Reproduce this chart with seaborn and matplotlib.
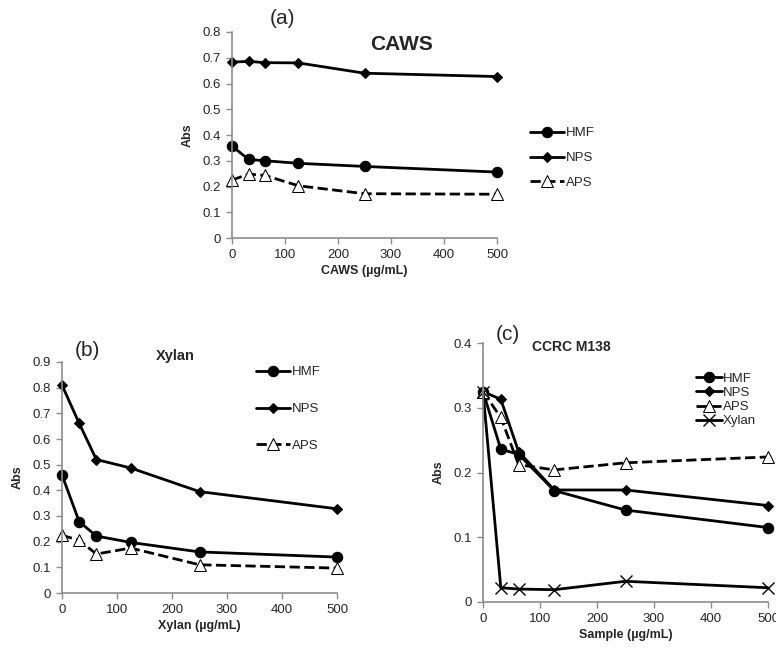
import numpy as np
import pandas as pd
import matplotlib
matplotlib.use("Agg")
import matplotlib.pyplot as plt
import seaborn as sns

# concentrations (ug/mL)
conc = [0, 31.25, 62.5, 125, 250, 500]

# (a) CAWS
caws_hmf = [0.357, 0.305, 0.300, 0.290, 0.278, 0.256]
caws_nps = [0.683, 0.686, 0.681, 0.680, 0.640, 0.627]
caws_aps = [0.225, 0.248, 0.243, 0.203, 0.172, 0.170]

# (b) Xylan
xyl_hmf = [0.460, 0.278, 0.222, 0.197, 0.160, 0.140]
xyl_nps = [0.810, 0.661, 0.520, 0.487, 0.395, 0.328]
xyl_aps = [0.225, 0.205, 0.152, 0.175, 0.110, 0.097]

# (c) CCRC M138
m138_hmf = [0.325, 0.236, 0.228, 0.172, 0.142, 0.115]
m138_nps = [0.325, 0.313, 0.232, 0.173, 0.173, 0.149]
m138_aps = [0.325, 0.285, 0.212, 0.204, 0.215, 0.224]
m138_xylan = [0.325, 0.022, 0.020, 0.019, 0.032, 0.022]

sns.set_style("white")
plt.rcParams["font.family"] = ["Liberation Sans", "DejaVu Sans"]

W, H = 776, 648
fig = plt.figure(figsize=(W / 100, H / 100), dpi=100)


def px_axes(left, top, right, bottom):
    return fig.add_axes([left / W, 1 - bottom / H, (right - left) / W, (bottom - top) / H])


STYLES = {
    "HMF": dict(marker="o", linestyle="-", markersize=7.5, markerfacecolor="black"),
    "NPS": dict(marker="D", linestyle="-", markersize=5, markerfacecolor="black"),
    "APS": dict(marker="^", linestyle="--", markersize=8, markerfacecolor="white"),
    "Xylan": dict(marker="x", linestyle="-", markersize=8, markeredgewidth=1.0),
}


def draw(ax, series, ymax, ystep, xlabel):
    for name, vals in series.items():
        df = pd.DataFrame({"x": conc, "y": vals})
        sns.lineplot(data=df, x="x", y="y", ax=ax, color="black", linewidth=2.0,
                     markeredgecolor="black", clip_on=False, label=name,
                     **STYLES[name])
    ax.set_xlim(0, 500)
    ax.set_ylim(0, ymax)
    ax.set_xticks(range(0, 501, 100))
    ax.set_yticks(np.round(np.arange(0, ymax + 1e-9, ystep), 2))
    ax.set_yticklabels(["0" if t == 0 else f"{t:g}" for t in ax.get_yticks()])
    for s in ["top", "right"]:
        ax.spines[s].set_visible(False)
    for s in ["left", "bottom"]:
        ax.spines[s].set_color("#8c8c8c")
        ax.spines[s].set_linewidth(1.2)
    ax.tick_params(axis="both", direction="out", length=4, width=1, color="#8c8c8c",
                   labelsize=9.5, pad=4, left=True, bottom=True)
    ax.set_xlabel(xlabel, fontsize=9, fontweight="bold", labelpad=3)
    ax.set_ylabel("Abs", fontsize=9, fontweight="bold", labelpad=6)
    ax.grid(False)


# (a)
ax_a = px_axes(232, 32, 497, 238)
draw(ax_a, {"HMF": caws_hmf, "NPS": caws_nps, "APS": caws_aps}, 0.8, 0.1, "CAWS (µg/mL)")
ax_a.legend(loc="center left", bbox_to_anchor=(530 / W, 1 - 158 / H), bbox_transform=fig.transFigure,
            frameon=False, fontsize=9.5, handlelength=2.6, handletextpad=0.1, labelspacing=0.95,
            borderpad=0, borderaxespad=0)
fig.text(270 / W, 1 - 18 / H, "(a)", fontsize=15, ha="left", va="center")
fig.text(402 / W, 1 - 45 / H, "CAWS", fontsize=15, fontweight="bold", ha="center", va="center")

# (b)
ax_b = px_axes(62, 362, 337, 593)
draw(ax_b, {"HMF": xyl_hmf, "NPS": xyl_nps, "APS": xyl_aps}, 0.9, 0.1, "Xylan (µg/mL)")
ax_b.legend(loc="center left", bbox_to_anchor=(256 / W, 1 - 409 / H), bbox_transform=fig.transFigure,
            frameon=False, fontsize=9.5, handlelength=2.6, handletextpad=0.15, labelspacing=1.85,
            borderpad=0, borderaxespad=0)
fig.text(75 / W, 1 - 350 / H, "(b)", fontsize=15, ha="left", va="center")
fig.text(175 / W, 1 - 356 / H, "Xylan", fontsize=10.5, fontweight="bold", ha="center", va="center")

# (c)
ax_c = px_axes(483, 343, 768, 602)
draw(ax_c, {"HMF": m138_hmf, "NPS": m138_nps, "APS": m138_aps, "Xylan": m138_xylan}, 0.4, 0.1,
     "Sample (µg/mL)")
ax_c.legend(loc="center left", bbox_to_anchor=(696 / W, 1 - 400 / H), bbox_transform=fig.transFigure,
            frameon=False, fontsize=9.5, handlelength=2.0, handletextpad=0.05, labelspacing=0.15,
            borderpad=0, borderaxespad=0)
fig.text(496 / W, 1 - 335 / H, "(c)", fontsize=15, ha="left", va="center")
fig.text(571 / W, 1 - 347 / H, "CCRC M138", fontsize=10, fontweight="bold", ha="center", va="center")

fig.savefig("out.png", dpi=100)
